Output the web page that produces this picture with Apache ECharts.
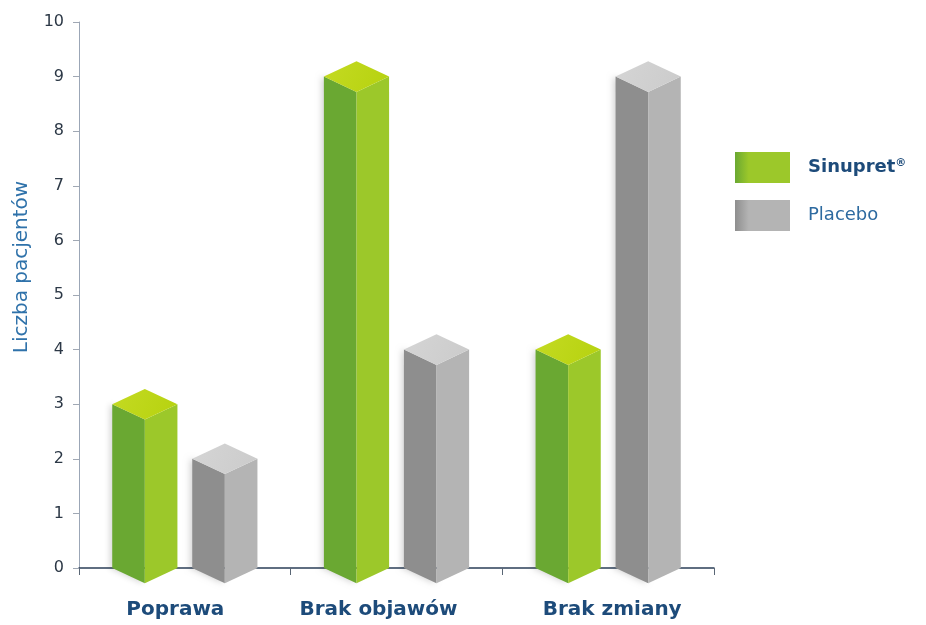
<!DOCTYPE html>
<html>
<head>
<meta charset="utf-8">
<style>
  html, body { margin: 0; padding: 0; background: #ffffff; }
  #chart { width: 926px; height: 625px; }
</style>
<script src="https://cdn.jsdelivr.net/npm/echarts@6/dist/echarts.min.js"></script>
</head>
<body>
<div id="chart"></div>
<script>
// Patient counts per outcome
const categories = ['Poprawa', 'Brak objawów', 'Brak zmiany'];
const sinupretValues = [3, 9, 4];
const placeboValues = [2, 4, 9];
const seriesNames = ['Sinupret®', 'Placebo'];
const yAxisTitle = 'Liczba pacjentów';

// Face colours for the prism bars: [left face, right face, top]
const palette = {
  green: { left: '#6aa832', right: '#9cc82a', top: '#b6d20f', topHi: '#c4da22' },
  grey:  { left: '#8e8e8e', right: '#b4b4b4', top: '#cbcbcb', topHi: '#d5d5d5' }
};

const chart = echarts.init(document.getElementById('chart'), null, { renderer: 'canvas' });

// Draws one pseudo-3D square prism per data item, shifted within its category band
function prismRenderer(colors, shift) {
  return function (params, api) {
    const cat = api.value(0);
    const val = api.value(1);
    const top = api.coord([cat, val]);
    const base = api.coord([cat, 0]);
    const band = api.size([1, 0])[0];
    const cx = top[0] + shift * band;
    const w = band * 0.154;
    const d = w * 0.47;
    const yv = top[1];
    const y0 = base[1];
    return {
      type: 'group',
      children: [
        {
          type: 'polygon',
          shape: { points: [[cx - w, yv], [cx, yv + d], [cx, y0 + d], [cx - w, y0]] },
          style: {
            fill: colors.left,
            shadowBlur: 6, shadowColor: 'rgba(0,0,0,0.18)', shadowOffsetX: -2
          }
        },
        {
          type: 'polygon',
          shape: { points: [[cx, yv + d], [cx + w, yv], [cx + w, y0], [cx, y0 + d]] },
          style: { fill: colors.right }
        },
        {
          type: 'polygon',
          shape: { points: [[cx - w, yv], [cx, yv - d], [cx + w, yv], [cx, yv + d]] },
          style: {
            fill: new echarts.graphic.LinearGradient(0, 0, 1, 1, [
              { offset: 0, color: colors.topHi },
              { offset: 1, color: colors.top }
            ])
          }
        }
      ]
    };
  };
}

function swatch(c) {
  return new echarts.graphic.LinearGradient(0, 0, 1, 0, [
    { offset: 0, color: c.left },
    { offset: 0.25, color: c.right },
    { offset: 1, color: c.right }
  ]);
}

const labelFont = 'DejaVu Sans';
const catLabel = { fontFamily: labelFont, fontWeight: 'bold', fontSize: 20, color: '#1d4b7a' };

chart.setOption({
  animation: false,
  backgroundColor: '#ffffff',
  grid: { left: 79, right: 212, top: 22, bottom: 57, containLabel: false },
  legend: {
    orient: 'vertical',
    left: 735,
    top: 152,
    padding: 0,
    itemWidth: 55,
    itemHeight: 31,
    itemGap: 17,
    icon: 'rect',
    selectedMode: false,
    data: seriesNames,
    formatter: function (name) {
      if (name === seriesNames[0]) return '{b|Sinupret}{s|®}';
      return '{n|' + name + '}';
    },
    textStyle: {
      padding: [0, 0, 0, 13],
      rich: {
        b: { fontFamily: labelFont, fontWeight: 'bold', fontSize: 18, color: '#1d4b7a' },
        s: { fontFamily: labelFont, fontWeight: 'bold', fontSize: 11, color: '#1d4b7a', verticalAlign: 'top', padding: [0, 0, 9, 0] },
        n: { fontFamily: labelFont, fontSize: 18, color: '#2d6aa0' }
      }
    }
  },
  xAxis: {
    type: 'category',
    data: categories,
    boundaryGap: true,
    axisLine: { show: true, lineStyle: { color: '#2b3f58', width: 1.5 } },
    axisTick: { show: true, length: 7, lineStyle: { color: '#5a6675' } },
    axisLabel: {
      margin: 32,
      formatter: function (v, i) { return '{c' + i + '|' + v + '}'; },
      rich: {
        c0: Object.assign({ padding: [0, 19, 0, 0] }, catLabel),
        c1: Object.assign({ padding: [0, 36, 0, 0] }, catLabel),
        c2: Object.assign({ padding: [0, 0, 0, 8] }, catLabel)
      }
    },
    splitLine: { show: false }
  },
  yAxis: {
    type: 'value',
    min: 0,
    max: 10,
    interval: 1,
    axisLine: { show: true, lineStyle: { color: '#9ba6b6', width: 1 } },
    axisTick: { show: true, length: 6, lineStyle: { color: '#a0a8b4' } },
    axisLabel: { margin: 15, fontFamily: labelFont, fontSize: 16, color: '#2c3846' },
    splitLine: { show: false }
  },
  graphic: [
    {
      type: 'text',
      x: 22,
      y: 267,
      rotation: Math.PI / 2,
      style: {
        text: yAxisTitle,
        fontFamily: labelFont,
        fontSize: 20,
        fill: '#2f72aa',
        align: 'center',
        verticalAlign: 'middle'
      }
    }
  ],
  series: [
    {
      name: seriesNames[0],
      type: 'custom',
      z: 3,
      itemStyle: { color: swatch(palette.green) },
      renderItem: prismRenderer(palette.green, -0.189),
      encode: { x: 0, y: 1 },
      data: sinupretValues.map((v, i) => [i, v])
    },
    {
      name: seriesNames[1],
      type: 'custom',
      z: 3,
      itemStyle: { color: swatch(palette.grey) },
      renderItem: prismRenderer(palette.grey, 0.189),
      encode: { x: 0, y: 1 },
      data: placeboValues.map((v, i) => [i, v])
    }
  ]
});
</script>
</body>
</html>
